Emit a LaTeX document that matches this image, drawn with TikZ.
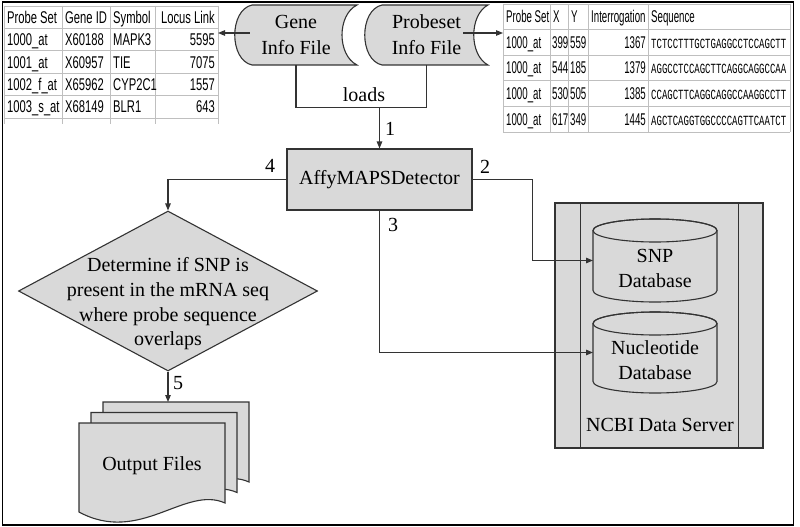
\documentclass[tikz,border=0pt]{standalone}
\usepackage{fontspec}
\setmainfont{Liberation Serif}
\newfontfamily\tabA[FakeStretch=0.66]{Liberation Sans}
\newfontfamily\tabB[FakeStretch=0.57]{Liberation Sans}
\newfontfamily\seqf[FakeStretch=0.643]{Liberation Mono}
\usetikzlibrary{arrows.meta,shapes.geometric,calc}
\tikzset{
  ln/.style={draw=black!80, line width=1.1pt},
  arr/.style={ln, -{Triangle[length=7pt,width=5.5pt]}},
  gfill/.style={fill=black!15},
  lbl/.style={font=\fontsize{20}{25}\selectfont, inner sep=0pt},
  tgrid/.style={draw=black!25, line width=0.9pt},
  ta/.style={font=\tabA\fontsize{17}{17}\selectfont, inner sep=0pt},
  tb/.style={font=\tabB\fontsize{17}{17}\selectfont, inner sep=0pt},
  ts/.style={font=\seqf\fontsize{14}{14}\selectfont, inner sep=0pt},
  ghost/.style={inner sep=0pt, outer sep=0pt}
}
\begin{document}
\begin{tikzpicture}[x=1pt,y=-1pt]
\useasboundingbox (0,0) rectangle (800,527);
\fill[white] (0,0) rectangle (800,527);

% ---------- Gene info table ----------
\node[ghost, minimum width=214pt, minimum height=112pt, anchor=north west] (gtab) at (4,6) {};
\foreach \y in {6,28.4,50.8,73.2,95.6,118} \draw[tgrid] (4,\y) -- (218,\y);
\foreach \x in {4,62,110,155,218} \draw[tgrid] (\x,6) -- (\x,124);
\foreach \a/\b/\c/\d [count=\i from 0] in {Probe Set/Gene ID/Symbol/Locus Link,
  1000\_at/X60188/MAPK3/5595, 1001\_at/X60957/TIE/7075,
  1002\_f\_at/X65962/CYP2C1/1557, 1003\_s\_at/X68149/BLR1/643}{
  \pgfmathsetmacro\yy{6+22.4*\i+11.2+6.1}
  \node[ta, anchor=base west] (ga\i) at (7,\yy) {\a};
  \node[ta, anchor=base west] (gb\i) at (65,\yy) {\b};
  \node[ta, anchor=base west] (gc\i) at (113,\yy) {\c};
  \node[ta, anchor=base east] (gd\i) at (215,\yy) {\d};
}

% ---------- Probeset info table ----------
\node[ghost, minimum width=287pt, minimum height=128pt, anchor=north west] (ptab) at (503,4) {};
\foreach \y in {4,29.6,55.2,80.8,106.4,132} \draw[tgrid] (503,\y) -- (790,\y);
\foreach \x in {503,550,568,588,648,790} \draw[tgrid] (\x,4) -- (\x,132);
\node[tb, anchor=base west] (ph1) at (506,22.8) {Probe Set};
\node[tb, anchor=base west] (ph2) at (553,22.8) {X};
\node[tb, anchor=base west] (ph3) at (571,22.8) {Y};
\node[tb, anchor=base west] (ph4) at (591,22.8) {Interrogation};
\node[tb, anchor=base west] (ph5) at (651,22.8) {Sequence};
\foreach \a/\b/\c/\d/\s [count=\i] in {
  1000\_at/399/559/1367/TCTCCTTTGCTGAGGCCTCCAGCTT,
  1000\_at/544/185/1379/AGGCCTCCAGCTTCAGGCAGGCCAA,
  1000\_at/530/505/1385/CCAGCTTCAGGCAGGCCAAGGCCTT,
  1000\_at/617/349/1445/AGCTCAGGTGGCCCCAGTTCAATCT}{
  \pgfmathsetmacro\yy{4+25.6*\i+12.8+6}
  \node[tb, anchor=base west] (pa\i) at (506,\yy) {\a};
  \node[tb, anchor=base west] (pb\i) at (552,\yy) {\b};
  \node[tb, anchor=base west] (pc\i) at (570,\yy) {\c};
  \node[tb, anchor=base east] (pd\i) at (646,\yy) {\d};
  \node[ts, anchor=base west] (ps\i) at (651,\yy) {\s};
}

% ---------- stored data shapes ----------
\draw[ln, gfill] (252,5) -- (357,5) .. controls (337,15) and (337,55) .. (357,65)
  -- (252,65) .. controls (229,60) and (229,10) .. (252,5) -- cycle;
\node[lbl, align=center, font=\fontsize{20}{26}\selectfont, minimum width=122pt, minimum height=60pt] (gene) at (296,35) {Gene\\Info File};
\draw[ln, gfill] (382,5) -- (488,5) .. controls (469,15) and (469,55) .. (488,65)
  -- (382,65) .. controls (359,60) and (359,10) .. (382,5) -- cycle;
\node[lbl, align=center, font=\fontsize{20}{26}\selectfont, minimum width=123pt, minimum height=60pt] (probe) at (426.5,35) {Probeset\\Info File};

% ---------- main process ----------
\node[draw=black!80, line width=1.1pt, fill=black!15, font=\fontsize{20}{25}\selectfont,
  inner sep=0pt, minimum width=185pt, minimum height=61pt] (box) at (379.5,179.5) {AffyMAPSDetector};

% ---------- decision ----------
\node[diamond, draw=black!80, line width=1.1pt, fill=black!15, inner sep=0pt,
  minimum width=299pt, minimum height=160pt] (dia) at (168,291) {};
\node[lbl, align=center, font=\fontsize{20}{24.7}\selectfont] (diat) at (168,304)
  {Determine if SNP is\\present in the mRNA seq\\where probe sequence\\overlaps};

% ---------- output files ----------
\foreach \dx/\dy in {24/-21, 12/-10.5, 0/0}{
  \begin{scope}[shift={(\dx,\dy)}]
    \draw[ln, gfill] (79,423) -- (225,423) -- (225,503)
      .. controls (185,485) and (140,545) .. (79,512) -- cycle;
  \end{scope}
}
\coordinate (outtop) at (175,402);
\node[lbl] (outt) at (152,466) {Output Files};

% ---------- NCBI server ----------
\node[draw=black!80, line width=1.1pt, fill=black!15, minimum width=208pt, minimum height=245pt, inner sep=0pt] (ncbi) at (659,325.5) {};
\draw[ln] ($(ncbi.north west)+(26,0)$) -- ($(ncbi.south west)+(26,0)$);
\draw[ln] ($(ncbi.north east)+(-25,0)$) -- ($(ncbi.south east)+(-25,0)$);
\node[lbl] (ncbit) at (660,425) {NCBI Data Server};

% SNP database cylinder
\draw[ln, gfill] (593,230.5) -- (593,290.5) arc[start angle=180, end angle=360, x radius=62pt, y radius=11.5pt]
  -- (717,230.5) arc[start angle=0, end angle=180, x radius=62pt, y radius=11.5pt] -- cycle;
\draw[ln] (655,230.5) ellipse [x radius=62pt, y radius=11.5pt];
\node[ghost, minimum width=124pt, minimum height=83pt] (snp) at (655,260.5) {};
\node[lbl, align=center] (snpt) at (655,268) {SNP\\Database};

% Nucleotide database cylinder
\draw[ln, gfill] (593,323.5) -- (593,381.5) arc[start angle=180, end angle=360, x radius=62pt, y radius=11.5pt]
  -- (717,323.5) arc[start angle=0, end angle=180, x radius=62pt, y radius=11.5pt] -- cycle;
\draw[ln] (655,323.5) ellipse [x radius=62pt, y radius=11.5pt];
\node[ghost, minimum width=124pt, minimum height=81pt] (nuc) at (655,352.5) {};
\node[lbl, align=center] (nuct) at (655,360) {Nucleotide\\Database};

% ---------- connectors ----------
\draw[arr] ($(gene.west)+(15,-2)$) coordinate (ga) -- (ga -| gtab.east);
\draw[arr] ($(probe.east)+(-25,-2)$) coordinate (pa) -- (pa -| ptab.west);
\draw[ln] (gene.south) -- ++(0,42) coordinate (l1) -| (probe.south);
\node[lbl] (loads) at (364,95) {loads};
\coordinate (j) at (l1 -| box.north);
\draw[arr] (j) -- (box.north);
\draw[arr] (box.west) -| (dia.north);
\draw[arr] (box.east) -- ++(60,0) |- (snp.west);
\draw[arr] (box.south) |- (nuc.west);
\draw[arr] (dia.south) -- (dia.south |- outtop);

\node[lbl] (n1) at (390,129) {1};
\node[lbl] (n2) at (485,167) {2};
\node[lbl] (n3) at (393,225) {3};
\node[lbl] (n4) at (270,166) {4};
\node[lbl] (n5) at (178,383) {5};

% ---------- frame ----------
\draw[line width=1.3pt, black] (2.5,2) rectangle (793.5,525);
\end{tikzpicture}
\end{document}
